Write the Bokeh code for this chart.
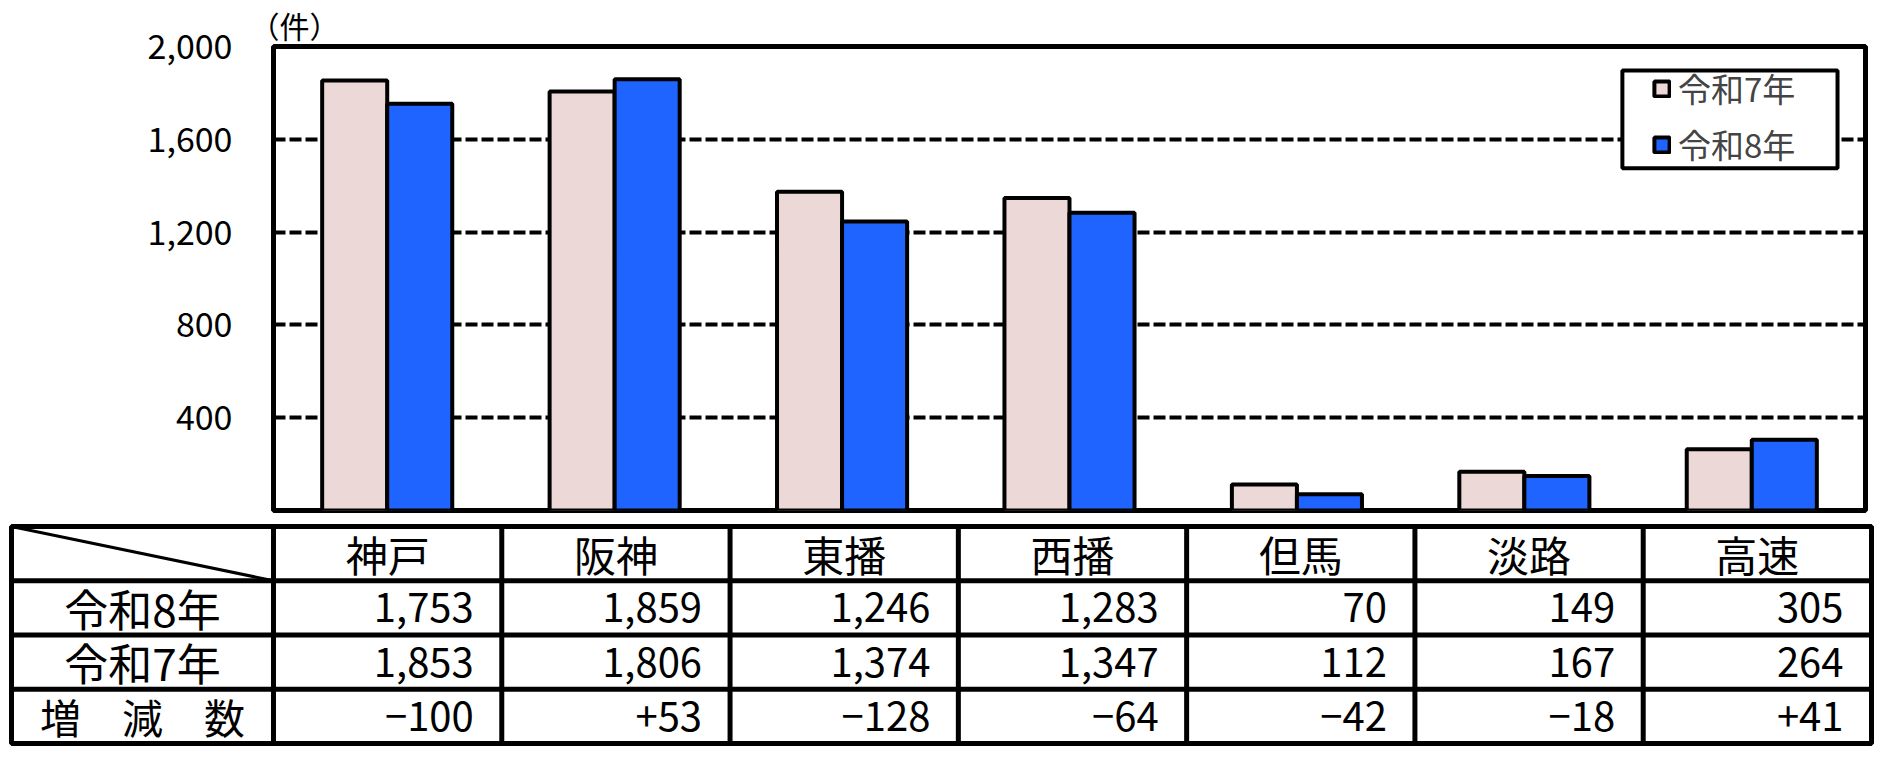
from bokeh.plotting import figure
from bokeh.models import (ColumnDataSource, Range1d, FactorRange, FixedTicker, Legend,
                          LegendItem, NumeralTickFormatter, BoxAnnotation, Title)
from bokeh.transform import dodge
from bokeh.embed import file_html
from bokeh.resources import INLINE
from bokeh.core.properties import value

# ---------------- data ----------------
regions = ["神戸", "阪神", "東播", "西播", "但馬", "淡路", "高速"]
r8 = [1753, 1859, 1246, 1283, 70, 149, 305]
r7 = [1853, 1806, 1374, 1347, 112, 167, 264]
series_names = ["令和7年", "令和8年"]
row_labels = ["令和8年", "令和7年", "増　減　数"]
y_ticks = [400, 800, 1200, 1600, 2000]
unit_label = "（件）"

PINK = "#ECD8D6"
BLUE = "#2064FF"
FONT = "Noto Sans CJK JP"

W = 1875

# ---------------- chart ----------------
src = ColumnDataSource(dict(region=regions, r7=r7, r8=r8))

p = figure(x_range=FactorRange(*regions), y_range=Range1d(0, 2000),
           width=W, height=520, output_backend="svg", toolbar_location=None,
           min_border_left=273, min_border_right=10, min_border_top=45, min_border_bottom=10)
p.x_range.range_padding = 0

b7 = p.vbar(x=dodge("region", -0.143, range=p.x_range), top="r7", width=0.286, source=src,
            fill_color=PINK, line_color="black", line_width=4)
b8 = p.vbar(x=dodge("region", 0.143, range=p.x_range), top="r8", width=0.286, source=src,
            fill_color=BLUE, line_color="black", line_width=4)

p.xaxis.visible = False
p.xgrid.grid_line_color = None
p.yaxis.ticker = FixedTicker(ticks=y_ticks)
p.yaxis.formatter = NumeralTickFormatter(format="0,0")
p.yaxis.axis_line_color = None
p.yaxis.major_tick_line_color = None
p.yaxis.minor_tick_line_color = None
p.yaxis.major_tick_out = 0
p.yaxis.major_tick_in = 0
p.yaxis.major_label_standoff = 41
p.yaxis.major_label_text_font = FONT
p.yaxis.major_label_text_font_size = "34px"
p.yaxis.major_label_text_color = "black"

p.ygrid.ticker = FixedTicker(ticks=y_ticks)
p.ygrid.grid_line_color = "black"
p.ygrid.grid_line_width = 4
p.ygrid.grid_line_dash = "12 4"

p.outline_line_color = "black"
p.outline_line_width = 5
p.outline_line_alpha = 1
p.background_fill_color = "white"
p.border_fill_color = "white"

# unit label above the plot frame
p.add_layout(Title(text=unit_label, align="left", offset=-24, standoff=0,
                   text_font=FONT, text_font_size="30px", text_font_style="normal",
                   text_color="black"), "above")

# legend frame (white box) + legend entries
p.add_layout(BoxAnnotation(left=5.931, right=6.877, top=1897, bottom=1475,
                           fill_color="white", fill_alpha=1, line_color="black",
                           line_width=4, line_alpha=1))
legend = Legend(items=[LegendItem(label=series_names[0], renderers=[b7]),
                       LegendItem(label=series_names[1], renderers=[b8])],
                location=(1379, 338), orientation="vertical",
                border_line_alpha=0, background_fill_alpha=0,
                label_text_font=FONT, label_text_font_size="33px",
                glyph_width=19, glyph_height=19, label_standoff=7,
                label_height=56, spacing=-9, padding=0, margin=0)
p.add_layout(legend, "center")

# ---------------- table ----------------
first_w = 262 / 228.3
n = len(regions)
t = figure(x_range=Range1d(-first_w, n), y_range=Range1d(0, 4),
           width=W, height=231, output_backend="svg", toolbar_location=None,
           min_border_left=11, min_border_right=4, min_border_top=6, min_border_bottom=8)
t.axis.visible = False
t.grid.visible = False
t.outline_line_color = "black"
t.outline_line_width = 5
t.outline_line_alpha = 1

vx = list(range(n))
t.segment(x0=vx, y0=[0] * n, x1=vx, y1=[4] * n, line_color="black", line_width=5)
t.segment(x0=[-first_w] * 3, y0=[1, 2, 3], x1=[n] * 3, y1=[1, 2, 3], line_color="black", line_width=5)
t.segment(x0=[-first_w], y0=[4], x1=[0], y1=[3], line_color="black", line_width=3)

centers = [i + 0.5 for i in range(n)]
t.text(x=centers, y=[3.5] * n, text=regions, text_font=value(FONT), text_font_size="42px",
       text_align="center", text_baseline="middle", text_color="black")

diffs = [a - b for a, b in zip(r8, r7)]
fmt = lambda v: f"{v:,}"
fmt_d = lambda v: ("+" if v > 0 else "−") + f"{abs(v):,}"
rights = [i + 1 for i in range(n)]
for yrow, vals in [(2.5, [fmt(v) for v in r8]), (1.5, [fmt(v) for v in r7]),
                   (0.5, [fmt_d(v) for v in diffs])]:
    t.text(x=rights, y=[yrow] * n, text=vals, text_font=value(FONT), text_font_size="40px",
           text_align="right", text_baseline="middle", x_offset=-28, text_color="black")

t.text(x=[-first_w / 2] * 2, y=[2.5, 1.5], text=row_labels[:2], text_font=value(FONT),
       text_font_size="44px", text_align="center", text_baseline="middle", text_color="black")
t.text(x=[-first_w / 2], y=[0.5], text=row_labels[2:], text_font=value(FONT),
       text_font_size="41px", text_align="center", text_baseline="middle", text_color="black")

open("out.html", "w").write(file_html([p, t], INLINE))
